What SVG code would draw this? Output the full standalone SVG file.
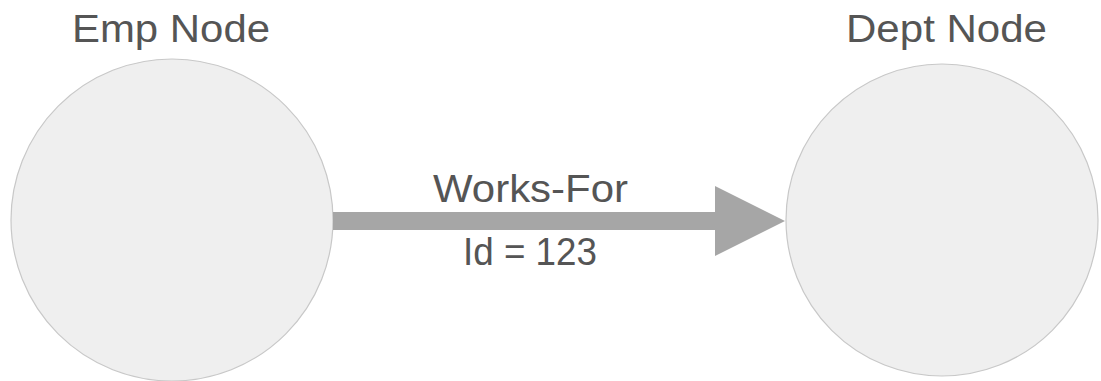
<svg xmlns="http://www.w3.org/2000/svg" width="1101" height="381" viewBox="0 0 1101 381">
<style>
.node{fill:#efefef;stroke:#c8c8c8;stroke-width:1.2}
.t{font-family:"Liberation Sans",Arial,sans-serif;fill:#555;font-size:38px}
.edge{fill:#a6a6a6}
</style>
<rect width="1101" height="381" fill="#fff"/>
<g id="emp">
<circle class="node" cx="172" cy="220" r="161"/>
<text class="t" x="72" y="42" textLength="198" lengthAdjust="spacingAndGlyphs">Emp Node</text>
</g>
<g id="dept">
<circle class="node" cx="942" cy="220" r="156"/>
<text class="t" x="846" y="42" textLength="201" lengthAdjust="spacingAndGlyphs">Dept Node</text>
</g>
<g id="connectors">
<path class="edge" d="M333 212 H715 V186 L785 221 L715 256 V230 H333 Z"/>
<text class="t" x="433" y="202" textLength="195" lengthAdjust="spacingAndGlyphs">Works-For</text>
<text class="t" x="463" y="265" textLength="134" lengthAdjust="spacingAndGlyphs">Id = 123</text>
</g>
</svg>
